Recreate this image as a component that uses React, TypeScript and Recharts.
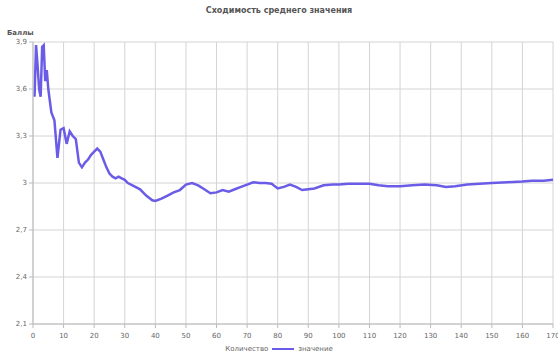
import {
  LineChart,
  Line,
  XAxis,
  YAxis,
  CartesianGrid,
} from "recharts";

const counts = [
  0.5, 1, 1.5, 2, 2.5, 3, 3.5, 4, 4.5, 5, 6, 7, 8, 9, 10, 11, 12, 13, 14, 15,
  16, 17, 18, 19, 20, 21, 22, 23, 24, 25, 26, 27, 28, 29, 30, 31, 33, 35, 37,
  39, 40, 42, 44, 46, 48, 50, 52, 54, 56, 58, 60, 62, 64, 66, 68, 70, 72, 74,
  76, 78, 80, 82, 84, 86, 88, 90, 92, 95, 98, 100, 103, 106, 110, 113, 116,
  120, 124, 128, 132, 135, 138, 142, 146, 150, 155, 160, 163, 167, 170,
];

const means = [
  3.55, 3.88, 3.75, 3.6, 3.55, 3.87, 3.88, 3.65, 3.72, 3.6, 3.45, 3.4, 3.16,
  3.34, 3.35, 3.25, 3.33, 3.3, 3.28, 3.13, 3.1, 3.13, 3.15, 3.18, 3.2, 3.22,
  3.2, 3.15, 3.1, 3.06, 3.04, 3.03, 3.04, 3.03, 3.02, 3.0, 2.98, 2.96, 2.92,
  2.89, 2.885, 2.9, 2.92, 2.94, 2.955, 2.99, 3.0, 2.985, 2.96, 2.935, 2.94,
  2.955, 2.945, 2.96, 2.975, 2.99, 3.005, 3.0, 3.0, 2.995, 2.965, 2.975, 2.99,
  2.975, 2.955, 2.96, 2.965, 2.985, 2.99, 2.99, 2.995, 2.995, 2.995, 2.985,
  2.98, 2.98, 2.985, 2.99, 2.985, 2.975, 2.98, 2.99, 2.995, 3.0, 3.005, 3.01,
  3.015, 3.015, 3.02,
];

const xTicks = [
  0, 10, 20, 30, 40, 50, 60, 70, 80, 90, 100, 110, 120, 130, 140, 150, 160,
  170,
];
const yTicks = [2.1, 2.4, 2.7, 3, 3.3, 3.6, 3.9];

const data = counts.map((n, i) => ({ n, mean: means[i] }));

const FONT = "'DejaVu Sans', sans-serif";
const LINE = "#6b5ce7";

export default function App() {
  return (
    <div
      style={{
        position: "fixed",
        left: 0,
        top: 0,
        width: 558,
        height: 356,
        background: "#fff",
        fontFamily: FONT,
      }}
    >
      <div
        style={{
          position: "absolute",
          top: 6,
          width: "100%",
          textAlign: "center",
          fontSize: 8,
          color: "#555",
          fontWeight: "bold",
        }}
      >
        Сходимость среднего значения
      </div>
      <div
        style={{
          position: "absolute",
          top: 29,
          left: 7,
          fontSize: 7,
          color: "#555",
          fontWeight: "bold",
        }}
      >
        Баллы
      </div>
      <LineChart
        width={558}
        height={356}
        data={data}
        margin={{ top: 42, right: 5, bottom: 0, left: 0 }}
      >
        <CartesianGrid stroke="#d4d4d4" strokeWidth={1} />
        <XAxis
          dataKey="n"
          type="number"
          domain={[0, 170]}
          ticks={xTicks}
          tick={{ fontSize: 7, fill: "#666", fontFamily: FONT, dy: 3 }}
          tickSize={4}
          stroke="#bbb"
          interval={0}
          height={32}
        />
        <YAxis
          type="number"
          domain={[2.1, 3.9]}
          ticks={yTicks}
          width={33}
          tick={{ fontSize: 7, fill: "#666", fontFamily: FONT }}
          tickFormatter={(v: number) => String(v).replace(".", ",")}
          tickSize={4}
          stroke="#bbb"
          interval={0}
        />
        <Line
          type="linear"
          dataKey="mean"
          stroke={LINE}
          strokeWidth={2.5}
          dot={false}
          isAnimationActive={false}
        />
      </LineChart>
      <div
        style={{
          position: "absolute",
          top: 345,
          width: "100%",
          display: "flex",
          justifyContent: "center",
          alignItems: "center",
          fontSize: 7,
          color: "#666",
          gap: 4,
        }}
      >
        <span>Количество</span>
        <svg width={22} height={6}>
          <line x1={0} y1={3} x2={22} y2={3} stroke={LINE} strokeWidth={2} />
        </svg>
        <span>значение</span>
      </div>
    </div>
  );
}
